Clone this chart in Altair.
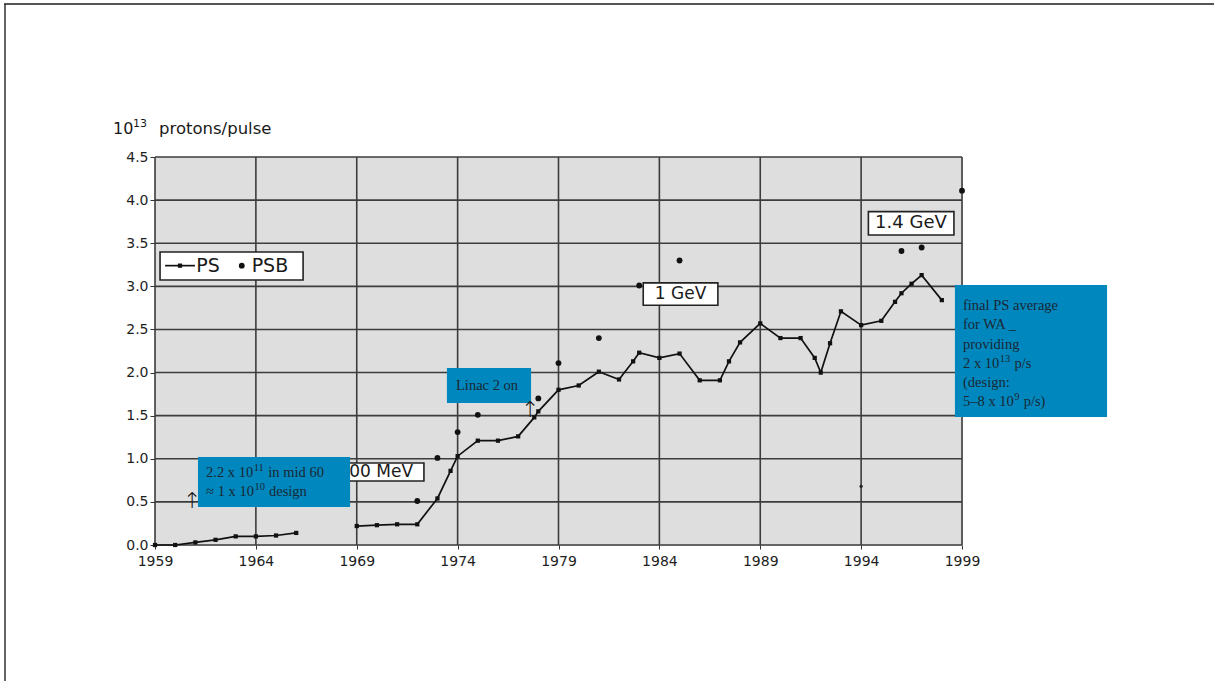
import altair as alt
import pandas as pd

# ---------------- data ----------------
ps_years = [1959, 1960, 1961, 1962, 1963, 1964, 1965, 1966,
            1969, 1970, 1971, 1972, 1973, 1973.65, 1974, 1975, 1976, 1977, 1977.8, 1978,
            1979, 1980, 1981, 1982, 1982.7, 1983, 1984, 1985, 1986, 1987, 1987.45, 1988,
            1989, 1990, 1991, 1991.7, 1992, 1992.46, 1993, 1994, 1995, 1995.68, 1996,
            1996.5, 1997, 1998]
ps_values = [0.0, 0.0, 0.03, 0.06, 0.10, 0.10, 0.11, 0.14,
             0.22, 0.23, 0.24, 0.24, 0.54, 0.86, 1.03, 1.21, 1.21, 1.26, 1.48, 1.55,
             1.80, 1.85, 2.01, 1.92, 2.13, 2.23, 2.17, 2.22, 1.91, 1.91, 2.13, 2.35,
             2.57, 2.40, 2.40, 2.17, 2.00, 2.34, 2.71, 2.55, 2.60, 2.82, 2.92,
             3.03, 3.13, 2.84]
psb_years = [1972, 1973, 1974, 1975, 1978, 1979, 1981, 1983, 1985, 1996, 1997, 1999]
psb_values = [0.51, 1.01, 1.31, 1.51, 1.70, 2.11, 2.40, 3.01, 3.30, 3.41, 3.45, 4.11]
stray_years = [1994]
stray_values = [0.68]

x_ticks = [1959, 1964, 1969, 1974, 1979, 1984, 1989, 1994, 1999]
y_ticks = [0.0, 0.5, 1.0, 1.5, 2.0, 2.5, 3.0, 3.5, 4.0, 4.5]

energy_labels = ["100 MeV", "1 GeV", "1.4 GeV"]
legend_items = ["PS", "PSB"]
title_parts = ["10", "13", "protons/pulse"]
# each line: (text before superscript, superscript, text after)
note_mid60 = [("2.2 x 10", "11", "in mid 60"), ("\u2248 1 x 10", "10", "design")]
note_linac = [("Linac 2 on", "", "")]
note_wa = [("final PS average", "", ""), ("for WA _", "", ""), ("providing", "", ""),
           ("2 x 10", "13", "p/s"), ("(design:", "", ""), ("5\u20138 x 10", "9", "p/s)")]

# ---------------- layout ----------------
W, H = 807, 388
BLUE = "#0087be"
NAVY = "#1b2733"
SANS = "DejaVu Sans"
SERIF = "Liberation Serif"
NOTE_FS = 14.5
SUP_FS = 10.5
GRID = "#3c3c3c"

xs = alt.Scale(domain=[1959, 1999], nice=False, zero=False)
ys = alt.Scale(domain=[0, 4.5], nice=False, zero=True)

ps_df = pd.DataFrame({"year": ps_years, "value": ps_values})
ps_df["seg"] = (ps_df["year"] > 1967).astype(int)
psb_df = pd.DataFrame({"year": psb_years, "value": psb_values})
stray_df = pd.DataFrame({"year": stray_years, "value": stray_values})


def X(field="year"):
    return alt.X(f"{field}:Q", scale=xs, title=None)


def Y(field="value"):
    return alt.Y(f"{field}:Q", scale=ys, title=None)


one = alt.Data(values=[{}])

# plot-area background, then grid lines drawn from the tick lists
bg = alt.Chart(one).mark_rect(fill="#dedede").encode(
    x=alt.value(0), x2=alt.value(W), y=alt.value(0), y2=alt.value(H))
vgrid = alt.Chart(pd.DataFrame({"year": x_ticks})).mark_rule(
    color=GRID, strokeWidth=1.6).encode(x=X(), y=alt.value(0), y2=alt.value(H))
hgrid = alt.Chart(pd.DataFrame({"value": y_ticks})).mark_rule(
    color=GRID, strokeWidth=1.6).encode(y=Y(), x=alt.value(0), x2=alt.value(W))

axis_common = dict(grid=False, domain=False, tickColor="#333", labelFont=SANS,
                   labelFontSize=14, labelColor="#1e1e1e", labelFlush=False,
                   labelOverlap=False)

ps_line = alt.Chart(ps_df).mark_line(color="#111", strokeWidth=1.7).encode(
    x=alt.X("year:Q", scale=xs, title=None,
            axis=alt.Axis(values=x_ticks, format="d", tickSize=4, labelPadding=5,
                          **axis_common)),
    y=alt.Y("value:Q", scale=ys, title=None,
            axis=alt.Axis(values=y_ticks, format=".1f", tickSize=5, labelPadding=2,
                          **axis_common)),
    detail="seg:N",
)
ps_pts = alt.Chart(ps_df).mark_point(shape="square", filled=True, color="#111",
                                     size=18, opacity=1).encode(x=X(), y=Y())
psb_pts = alt.Chart(psb_df).mark_circle(color="#111", size=34, opacity=1).encode(
    x=X(), y=Y())
stray_pts = alt.Chart(stray_df).mark_circle(color="#222", size=12, opacity=1).encode(
    x=X(), y=Y())

# energy label boxes (white with dark border)
lab_df = pd.DataFrame({
    "label": energy_labels,
    "year": [1967.9, 1983.2, 1994.36],
    "year2": [1972.33, 1986.9, 1998.6],
    "value": [0.951, 3.04, 3.866],
    "value2": [0.742, 2.78, 3.596],
    "tx": [1969.94, 1985.05, 1996.47],
    "ty": [0.847, 2.91, 3.73],
    "fs": [17, 17, 18],
})
lab_box = alt.Chart(lab_df).mark_rect(fill="white", stroke="#222", strokeWidth=1.6).encode(
    x=X(), x2="year2:Q", y=Y(), y2="value2:Q")
lab_txt = alt.Chart(lab_df).mark_text(font=SANS, color="#1a1a1a", align="center",
                                      baseline="middle").encode(
    x=X("tx"), y=Y("ty"), text="label:N",
    size=alt.Size("fs:Q", scale=None, legend=None))

# legend box
leg_box = alt.Chart(one).mark_rect(fill="white", stroke="#222", strokeWidth=1.6).encode(
    x=alt.datum(1959.25, scale=xs), x2=alt.datum(1966.34),
    y=alt.datum(3.398, scale=ys), y2=alt.datum(3.073))
leg_line = alt.Chart(one).mark_rule(color="#111", strokeWidth=1.7).encode(
    x=alt.datum(1959.5, scale=xs), x2=alt.datum(1960.98), y=alt.datum(3.24, scale=ys))
leg_sq = alt.Chart(one).mark_point(shape="square", filled=True, color="#111", size=18,
                                   opacity=1).encode(
    x=alt.datum(1960.24, scale=xs), y=alt.datum(3.24, scale=ys))
leg_dot = alt.Chart(one).mark_circle(color="#111", size=34, opacity=1).encode(
    x=alt.datum(1963.3, scale=xs), y=alt.datum(3.24, scale=ys))
leg_txt_df = pd.DataFrame({"label": legend_items, "year": [1961.05, 1963.79],
                           "value": [3.235, 3.235]})
leg_txt = alt.Chart(leg_txt_df).mark_text(font=SANS, fontSize=19, color="#1a1a1a",
                                          align="left", baseline="middle").encode(
    x=X(), y=Y(), text="label:N")

# blue annotation boxes
blue_df = pd.DataFrame({
    "year": [1961.13, 1973.47, 1998.65],
    "year2": [1968.67, 1977.64, 2006.19],
    "value": [1.02, 2.053, 3.015],
    "value2": [0.44, 1.647, 1.485],
})
blue_box = alt.Chart(blue_df).mark_rect(fill=BLUE, clip=False).encode(
    x=X(), x2="year2:Q", y=Y(), y2="value2:Q")

# approximate Times-like advance widths (em) for placing superscripts
TW = {".": .25, " ": .25, "x": .5, "\u2248": .549, "\u2013": .5, "(": .333}


def text_w(s, size):
    return sum(TW.get(c, .5) for c in s) * size


def note(lines, year, value, line_h):
    layers = []
    for i, (pre, sup, post) in enumerate(lines):
        dy = i * line_h
        kw = dict(font=SERIF, color=NAVY, align="left", baseline="alphabetic", clip=False)
        enc = dict(x=alt.datum(year, scale=xs), y=alt.datum(value, scale=ys))
        layers.append(alt.Chart(one).mark_text(fontSize=NOTE_FS, dy=dy, **kw).encode(
            text=alt.value(pre), **enc))
        if sup:
            w0 = text_w(pre, NOTE_FS)
            layers.append(alt.Chart(one).mark_text(fontSize=SUP_FS, dx=w0 + 0.5,
                                                   dy=dy - 6, **kw).encode(
                text=alt.value(sup), **enc))
            w1 = w0 + 1 + len(sup) * 0.5 * SUP_FS + 0.25 * NOTE_FS
            layers.append(alt.Chart(one).mark_text(fontSize=NOTE_FS, dx=w1, dy=dy,
                                                   **kw).encode(
                text=alt.value(post), **enc))
    return layers


notes = (note(note_mid60, 1961.53, 0.785, 19) + note(note_linac, 1973.92, 1.80, 19)
         + note(note_wa, 1999.05, 2.726, 19.3))

arrow_df = pd.DataFrame({"year": [1960.83, 1977.59], "value": [0.505, 1.566],
                         "t": ["\u2191", "\u2191"]})
arrows = alt.Chart(arrow_df).mark_text(font=SANS, fontSize=22, fontWeight=300,
                                       color="#111", baseline="middle").encode(
    x=X(), y=Y(), text="t:N")

# axis title "10^13 protons/pulse"
t_main = alt.Chart(one).mark_text(font=SANS, fontSize=16, color="#1a1a1a", align="left",
                                  baseline="alphabetic").encode(
    x=alt.value(-42), y=alt.value(-23), text=alt.value(title_parts[0]))
t_sup = alt.Chart(one).mark_text(font=SANS, fontSize=11, color="#1a1a1a", align="left",
                                 baseline="alphabetic").encode(
    x=alt.value(-22), y=alt.value(-30), text=alt.value(title_parts[1]))
t_rest = alt.Chart(one).mark_text(font=SANS, fontSize=16.5, color="#1a1a1a", align="left",
                                  baseline="alphabetic").encode(
    x=alt.value(4), y=alt.value(-23), text=alt.value(title_parts[2]))

# page frame
frame_top = alt.Chart(one).mark_rule(color="#555", strokeWidth=2).encode(
    x=alt.value(-151), x2=alt.value(1059), y=alt.value(-153))
frame_left = alt.Chart(one).mark_rule(color="#333", strokeWidth=1.5).encode(
    x=alt.value(-150), y=alt.value(-153), y2=alt.value(524))

chart = alt.layer(
    bg, vgrid, hgrid, ps_line, lab_box, lab_txt, ps_pts, psb_pts, stray_pts,
    leg_box, leg_line, leg_sq, leg_dot, leg_txt,
    blue_box, *notes, arrows,
    t_main, t_sup, t_rest, frame_top, frame_left,
).properties(
    width=W, height=H,
    autosize=alt.AutoSizeParams(type="none"),
    padding={"left": 155, "top": 157, "right": 252, "bottom": 136},
).configure_view(
    stroke="#2a2a2a", strokeWidth=1.6,
).configure(background="white")

chart.save("out.html", embed_options={"renderer": "svg", "actions": False})
